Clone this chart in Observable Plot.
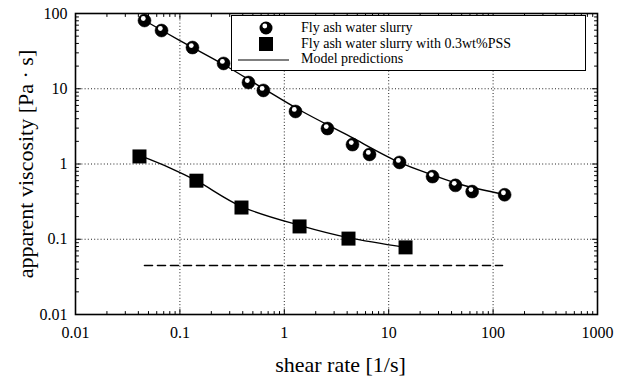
<!DOCTYPE html>
<html><head><meta charset="utf-8">
<script src="https://cdn.jsdelivr.net/npm/d3@7"></script>
<script src="https://cdn.jsdelivr.net/npm/@observablehq/plot@0.6"></script>
<style>
body{margin:0;background:#fff;}
#wrap{position:relative;width:628px;height:379px;font-family:"Liberation Serif","Times New Roman",serif;}
#legend{position:absolute;left:231px;top:15px;width:353px;height:54px;border:1.5px solid #000;background:#fff;font-size:14px;color:#000;}
#legend .row{position:absolute;left:69px;white-space:nowrap;line-height:15px;}
#legend svg{position:absolute;left:0;top:0;}
</style></head>
<body><div id="wrap"></div>
<script>
// Fly ash water slurry (measured)
const shearA = [0.0458, 0.0667, 0.132, 0.262, 0.454, 0.63, 1.28, 2.59, 4.5, 6.55, 12.7, 26.3, 43.6, 63, 129];
const viscA  = [80.7, 59.4, 35.3, 21.7, 12.1, 9.5, 4.99, 2.96, 1.81, 1.34, 1.05, 0.68, 0.52, 0.43, 0.39];
// Fly ash water slurry with 0.3wt%PSS (measured)
const shearB = [0.041, 0.144, 0.389, 1.40, 4.12, 14.5];
const viscB  = [1.26, 0.60, 0.264, 0.148, 0.102, 0.078];
// Model predictions
const modelAx = [0.0458, 0.1, 0.262, 0.6, 1.43, 4, 12.7, 26, 50, 128];
const modelAy = [80.7, 43.7, 21.0, 10.5, 5.14, 2.43, 1.05, 0.72, 0.53, 0.394];
const modelBx = [0.041, 0.08, 0.144, 0.389, 1.43, 4.12, 14.5];
const modelBy = [1.30, 0.89, 0.60, 0.272, 0.152, 0.105, 0.078];
// dashed reference line
const dashX = [0.0458, 123];
const dashY = [0.0448, 0.0448];
// ticks
const xTicks = [0.01, 0.1, 1, 10, 100, 1000];
const xTickLabels = ["0.01", "0.1", "1", "10", "100", "1000"];
const yTicks = [0.01, 0.1, 1, 10, 100];
const yTickLabels = ["0.01", "0.1", "1", "10", "100"];
const seriesNames = ["Fly ash water slurry", "Fly ash water slurry with 0.3wt%PSS", "Model predictions"];
const xTitle = "shear rate [1/s]";
const yTitle = "apparent viscosity [Pa · s]";

const zip = (xs, ys) => xs.map((x, i) => ({x, y: ys[i]}));
const minorOf = (majors) => majors.slice(0, -1).flatMap(m => [2,3,4,5,6,7,8,9].map(k => m * k));
const xMinor = minorOf(xTicks), yMinor = minorOf(yTicks);
const tickShape = {draw(ctx, l) { ctx.moveTo(0, 0); ctx.lineTo(0, -l); }};

const gridStyle = {stroke: "#222", strokeOpacity: 1, strokeDasharray: "1,2.2", strokeWidth: 1};
const inner = (data, frameAnchor, rotate, len) => Plot.vector(data, {
  [frameAnchor === "left" || frameAnchor === "right" ? "y" : "x"]: d => d,
  frameAnchor, rotate, length: len, anchor: "start", shape: tickShape, stroke: "#000", strokeWidth: 1
});

const chart = Plot.plot({
  width: 628, height: 379,
  marginLeft: 75, marginRight: 31, marginTop: 13, marginBottom: 65,
  x: {type: "log", domain: [0.01, 1000]},
  y: {type: "log", domain: [0.01, 100]},
  style: {fontFamily: "'Liberation Serif', 'Times New Roman', serif", fontSize: "16px", color: "#000", background: "transparent"},
  marks: [
    Plot.gridX(xTicks.slice(1, -1), gridStyle),
    Plot.gridY(yTicks.slice(1, -1), gridStyle),
    Plot.axisX(xTicks, {tickSize: 0, tickPadding: 12, tickFormat: d => xTickLabels[xTicks.indexOf(d)], label: null, fontSize: 16}),
    Plot.axisY(yTicks, {tickSize: 0, tickPadding: 8, tickFormat: d => yTickLabels[yTicks.indexOf(d)], label: null, fontSize: 16}),
    inner(xMinor, "bottom", 0, 3), inner(xTicks, "bottom", 0, 5),
    inner(xMinor, "top", 180, 3), inner(xTicks, "top", 180, 5),
    inner(yMinor, "left", 90, 3), inner(yTicks, "left", 90, 5),
    inner(yMinor, "right", -90, 3), inner(yTicks, "right", -90, 5),
    Plot.text([xTitle], {frameAnchor: "bottom", dy: 50, dx: 4, lineAnchor: "middle", textAnchor: "middle", fontSize: 22}),
    Plot.text([yTitle], {frameAnchor: "left", dx: -50, rotate: -90, lineAnchor: "middle", textAnchor: "middle", fontSize: 22}),
    Plot.line(zip(dashX, dashY), {x: "x", y: "y", stroke: "#000", strokeWidth: 1.6, strokeDasharray: "8,5"}),
    Plot.line(zip(modelAx, modelAy), {x: "x", y: "y", stroke: "#000", strokeWidth: 1.4, curve: "catmull-rom"}),
    Plot.line(zip(modelBx, modelBy), {x: "x", y: "y", stroke: "#000", strokeWidth: 1.4, curve: "catmull-rom"}),
    Plot.dot(zip(shearA, viscA), {x: "x", y: "y", r: 6.5, fill: "#000", stroke: "#000", strokeWidth: 0.5}),
    Plot.dot(zip(shearA, viscA), {x: "x", y: "y", r: 2.4, dx: -1.2, dy: -2, fill: "#fff"}),
    Plot.dot(zip(shearB, viscB), {x: "x", y: "y", r: 7.9, symbol: "square", fill: "#000"}),
    Plot.frame({stroke: "#000", strokeWidth: 1.6})
  ]
});
const wrap = document.getElementById("wrap");
wrap.appendChild(chart);

// legend
const lg = document.createElement("div");
lg.id = "legend";
lg.innerHTML = `<svg width="353" height="54">
  <circle cx="34" cy="12" r="6.5" fill="#000"/><circle cx="32.8" cy="10" r="2.4" fill="#fff"/>
  <rect x="27" y="21" width="14" height="14" fill="#000"/>
  <line x1="6" x2="57" y1="44" y2="44" stroke="#000" stroke-width="1.2"/>
</svg>` + seriesNames.map((s, i) => `<div class="row" style="top:${4 + i * 15.5}px">${s}</div>`).join("");
wrap.appendChild(lg);
</script></body></html>
